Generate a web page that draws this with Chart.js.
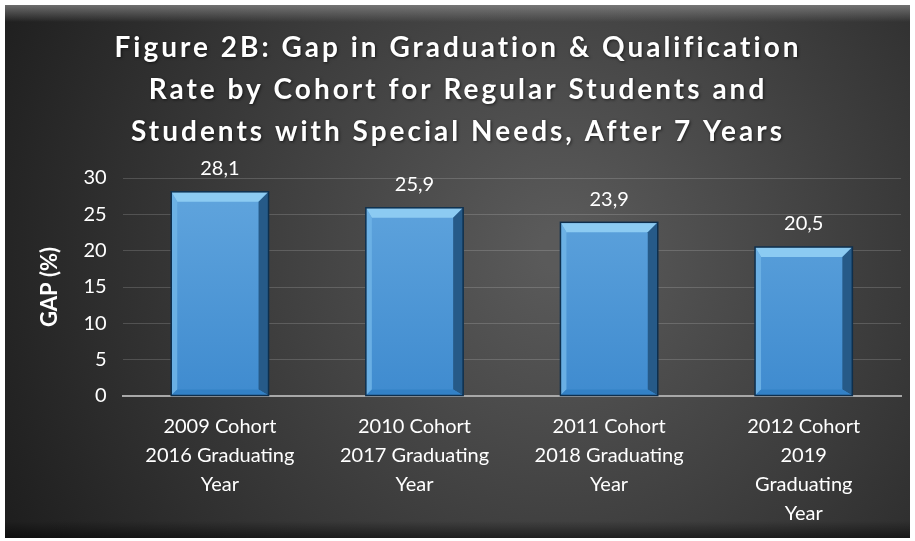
<!DOCTYPE html>
<html>
<head>
<meta charset="utf-8">
<script src="https://cdn.jsdelivr.net/npm/chart.js@4.4.1/dist/chart.umd.min.js"></script>
<style>
  html, body { margin: 0; padding: 0; background: #fff; }
  #wrap { width: 915px; height: 541px; position: relative; }
</style>
</head>
<body>
<div id="wrap"><canvas id="myChart" width="915" height="541"></canvas></div>
<script>
const titleLines = [
    'Figure 2B: Gap in Graduation & Qualification',
    'Rate by Cohort for Regular Students and',
    'Students with Special Needs, After 7 Years'
];
const cohorts = [
    ['2009 Cohort', '2016 Graduating', 'Year'],
    ['2010 Cohort', '2017 Graduating', 'Year'],
    ['2011 Cohort', '2018 Graduating', 'Year'],
    ['2012 Cohort', '2019', 'Graduating', 'Year']
];
const gapValues = [28.1, 25.9, 23.9, 20.5];
const yTicks = [0, 5, 10, 15, 20, 25, 30];

const FONT = 'Lato, "Open Sans", sans-serif';

// dark panel behind everything
const panelBg = {
    id: 'panelBg',
    beforeDraw(chart) {
        const c = chart.ctx;
        const w = chart.width, h = chart.height;
        c.save();
        c.fillStyle = '#ffffff';
        c.fillRect(0, 0, w, h);
        const g = c.createRadialGradient(560, 250, 20, 560, 250, 620);
        g.addColorStop(0, '#5a5a5a');
        g.addColorStop(0.5, '#3c3c3c');
        g.addColorStop(1, '#1e1e1e');
        c.fillStyle = g;
        c.fillRect(5, 5, w - 10, h - 8);
        // top bevel
        const tb = c.createLinearGradient(0, 5, 0, 22);
        tb.addColorStop(0, 'rgba(140,140,140,0.7)');
        tb.addColorStop(1, 'rgba(140,140,140,0)');
        c.fillStyle = tb;
        c.fillRect(5, 5, w - 10, 17);
        // bottom shade
        const bb = c.createLinearGradient(0, h - 20, 0, h - 3);
        bb.addColorStop(0, 'rgba(0,0,0,0)');
        bb.addColorStop(1, 'rgba(0,0,0,0.5)');
        c.fillStyle = bb;
        c.fillRect(5, h - 20, w - 10, 17);
        c.restore();
    }
};

// spaced-out title
const spacedTitle = {
    id: 'spacedTitle',
    afterDraw(chart) {
        const c = chart.ctx;
        c.save();
        c.font = 'bold 28px ' + FONT;
        c.letterSpacing = '3px';
        c.fillStyle = '#ffffff';
        c.textAlign = 'center';
        c.textBaseline = 'middle';
        c.shadowColor = 'rgba(0,0,0,0.6)';
        c.shadowBlur = 3;
        c.shadowOffsetX = 1;
        c.shadowOffsetY = 1;
        titleLines.forEach((line, i) => {
            c.fillText(line, 458, 48 + i * 42);
        });
        c.restore();
    }
};

// bevel on bars + value labels
const bevelBars = {
    id: 'bevelBars',
    afterDatasetsDraw(chart) {
        const c = chart.ctx;
        const meta = chart.getDatasetMeta(0);
        c.save();
        meta.data.forEach((bar, i) => {
            const left = bar.x - bar.width / 2;
            const right = bar.x + bar.width / 2;
            const top = bar.y;
            const bottom = bar.base;
            const b = 10;
            const s = 6;
            // top bevel
            c.fillStyle = '#8ccbf2';
            c.beginPath();
            c.moveTo(left, top); c.lineTo(right, top);
            c.lineTo(right - b, top + b); c.lineTo(left + s, top + b);
            c.closePath(); c.fill();
            // left bevel
            c.fillStyle = 'rgba(110,178,230,0.9)';
            c.beginPath();
            c.moveTo(left, top); c.lineTo(left + s, top + b);
            c.lineTo(left + s, bottom - s); c.lineTo(left, bottom);
            c.closePath(); c.fill();
            // right bevel
            c.fillStyle = '#265a88';
            c.beginPath();
            c.moveTo(right, top); c.lineTo(right - b, top + b);
            c.lineTo(right - b, bottom - s); c.lineTo(right, bottom);
            c.closePath(); c.fill();
            // bottom bevel
            c.fillStyle = '#3381c6';
            c.beginPath();
            c.moveTo(left, bottom); c.lineTo(left + s, bottom - s);
            c.lineTo(right - b, bottom - s); c.lineTo(right, bottom);
            c.closePath(); c.fill();
            // outline
            c.strokeStyle = '#0e2f4d';
            c.lineWidth = 1.5;
            c.strokeRect(left, top, bar.width, bottom - top);

            // value label
            c.font = '20px ' + FONT;
            c.fillStyle = '#ffffff';
            c.textAlign = 'center';
            c.textBaseline = 'bottom';
            c.fillText(String(gapValues[i]).replace('.', ','), bar.x, top - 13);
        });
        c.restore();
    }
};

const ctx = document.getElementById('myChart');

const gapChart = new Chart(ctx, {
    type: 'bar',
    data: {
        labels: cohorts,
        datasets: [{
            label: 'GAP (%)',
            data: gapValues,
            backgroundColor: (context) => {
                const area = context.chart.chartArea;
                if (!area) return '#4f97d6';
                const g = context.chart.ctx.createLinearGradient(0, area.top, 0, area.bottom);
                g.addColorStop(0, '#62a6de');
                g.addColorStop(1, '#3f8bcf');
                return g;
            },
            borderWidth: 0,
            barPercentage: 0.5,
            categoryPercentage: 1.0
        }]
    },
    options: {
        responsive: false,
        animation: false,
        layout: {
            padding: { top: 178, right: 14, left: 33, bottom: 5 }
        },
        plugins: {
            legend: { display: false },
            tooltip: { enabled: false }
        },
        scales: {
            x: {
                grid: { display: false },
                border: { color: '#a8a8a8', width: 2 },
                ticks: {
                    color: '#ffffff',
                    font: { family: FONT, size: 20, lineHeight: 1.45 },
                    maxRotation: 0,
                    autoSkip: false,
                    padding: 8
                }
            },
            y: {
                min: 0,
                max: 30,
                afterBuildTicks: (axis) => {
                    axis.ticks = yTicks.map(v => ({ value: v }));
                },
                grid: { color: 'rgba(255,255,255,0.16)', lineWidth: 1, drawTicks: false },
                border: { display: false },
                ticks: {
                    color: '#ffffff',
                    font: { family: FONT, size: 20 },
                    padding: 16
                },
                title: {
                    display: true,
                    text: 'GAP (%)',
                    color: '#ffffff',
                    font: { family: FONT, size: 22, weight: 'bold' },
                    padding: { bottom: 4 }
                }
            }
        }
    },
    plugins: [panelBg, spacedTitle, bevelBars]
});
</script>
</body>
</html>
